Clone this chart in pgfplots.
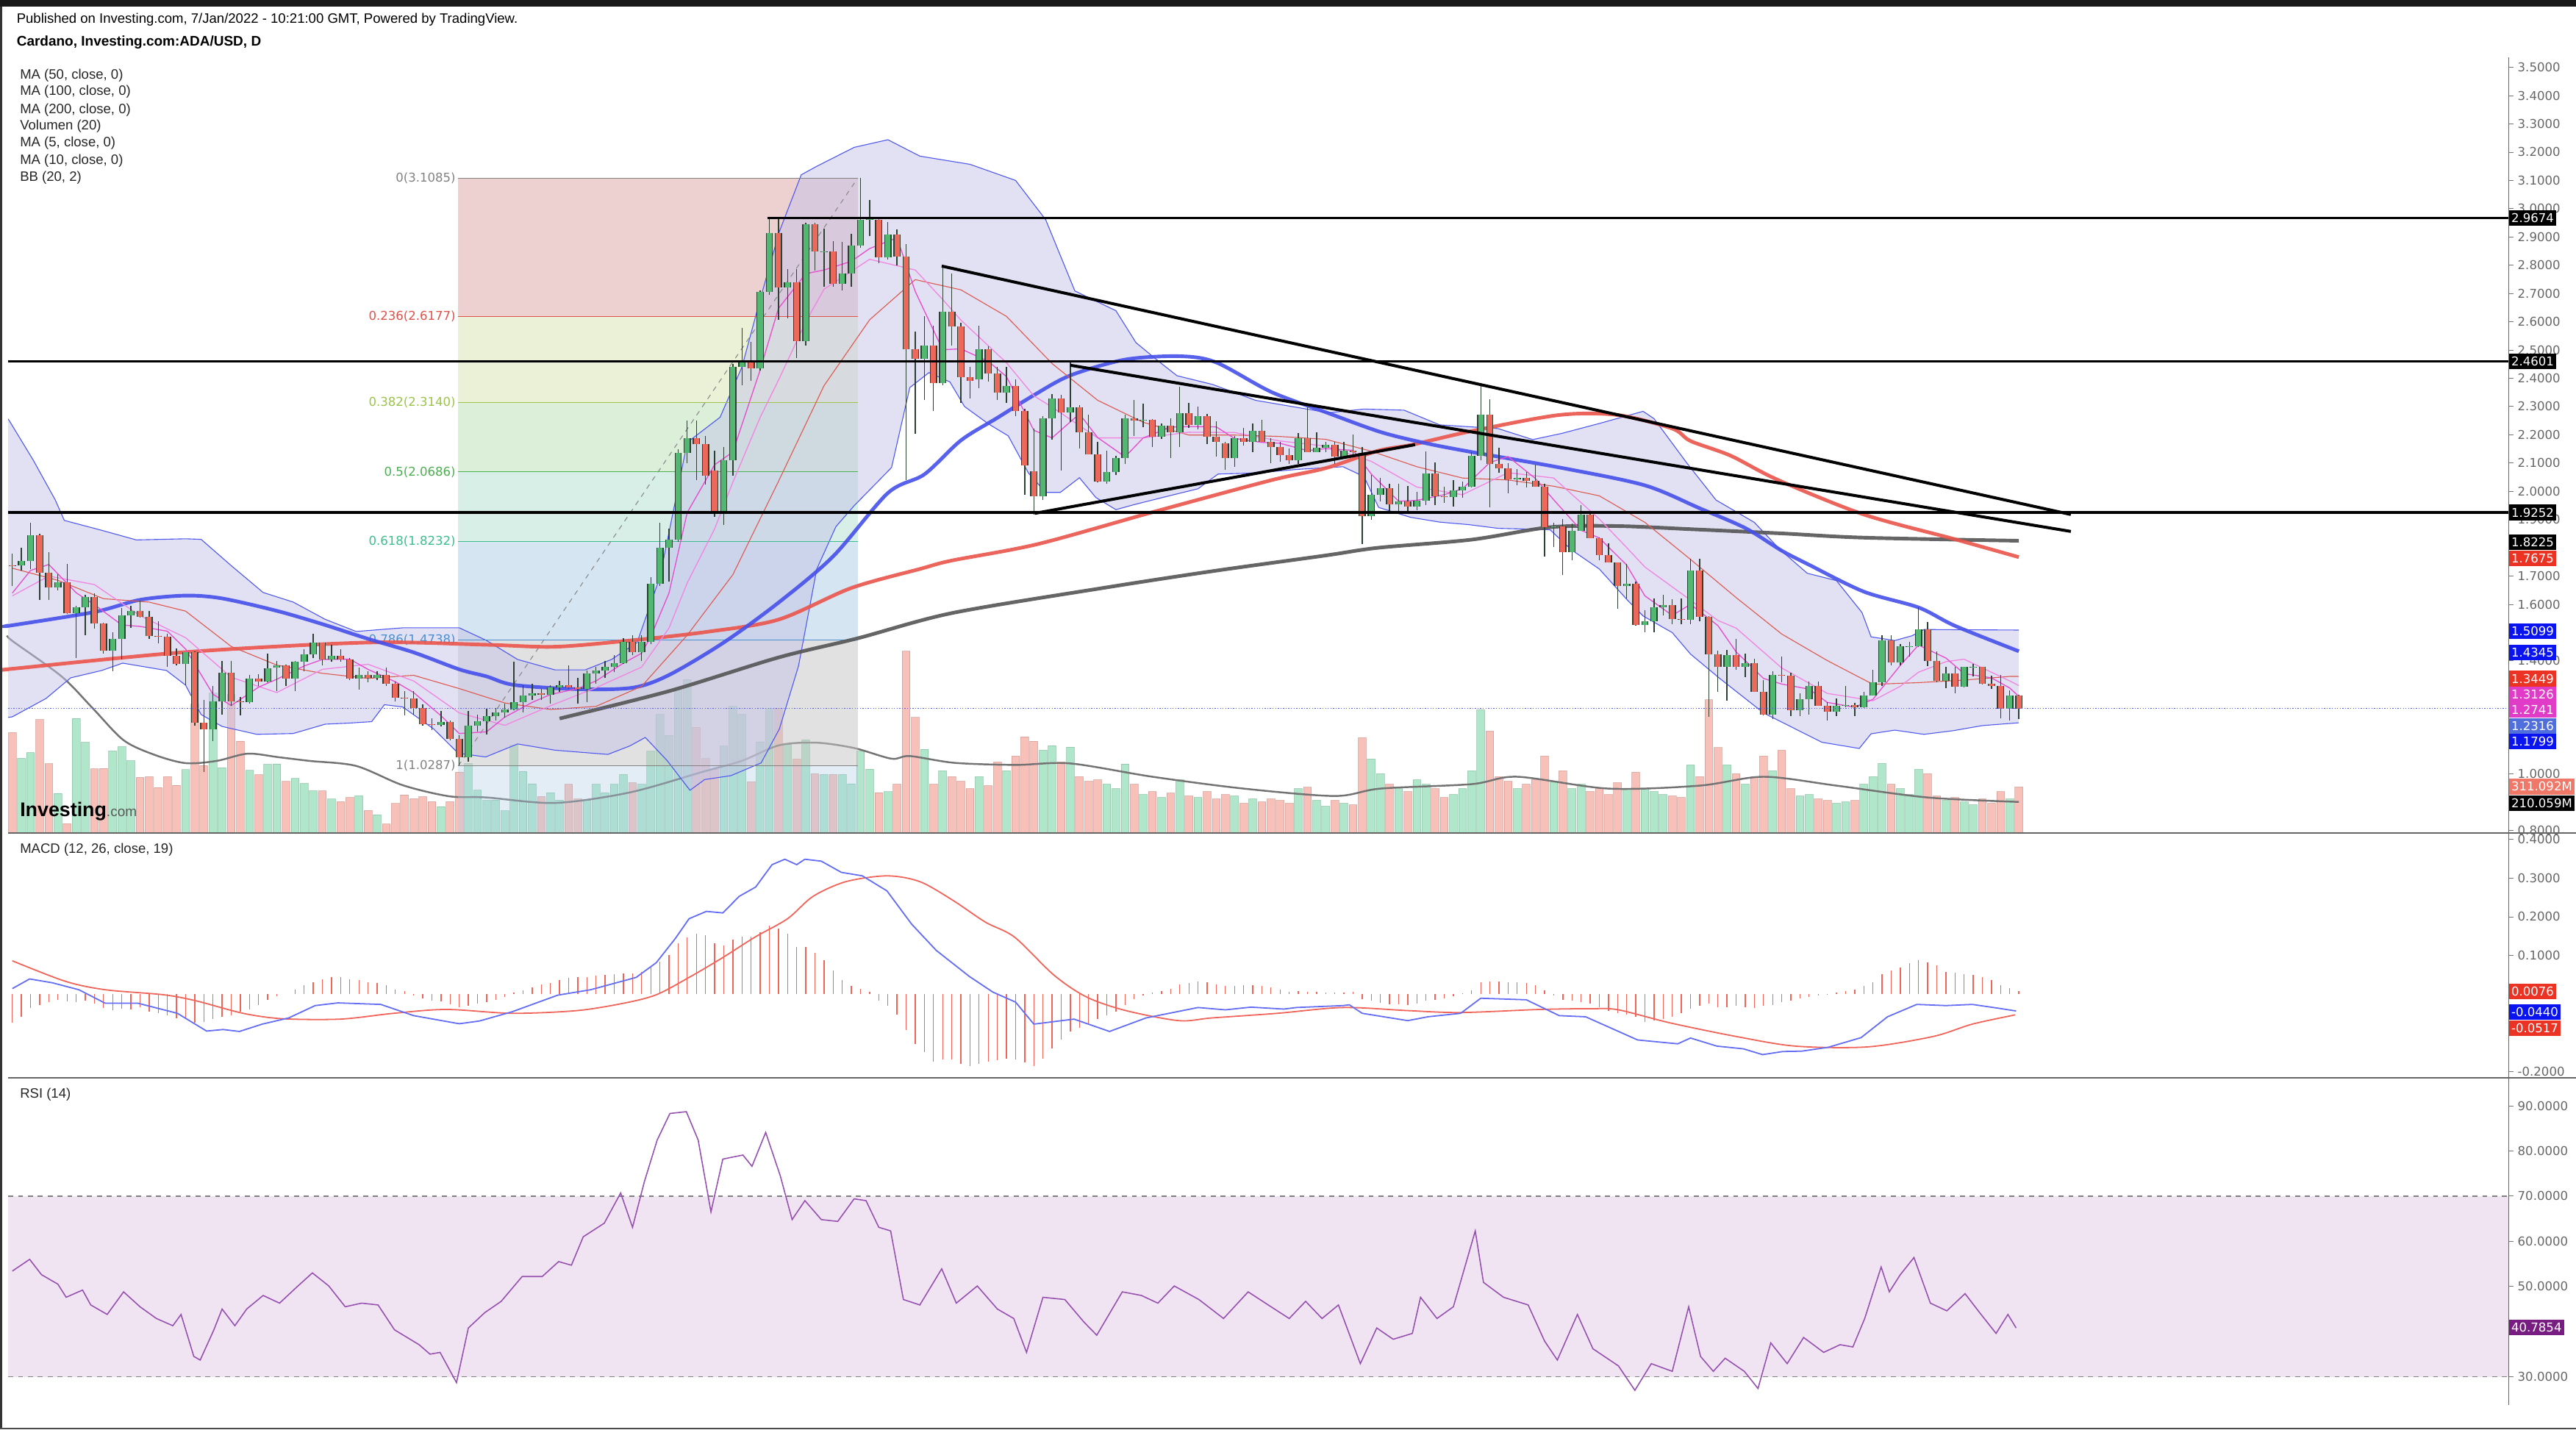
\documentclass[border=0pt]{standalone}
\usepackage{pgfplots}
\pgfplotsset{compat=1.18}
\usepackage{pgfplotstable}
\usepackage{fontspec}
\setmainfont{Liberation Sans}
\newfontfamily\numfont{DejaVu Sans}

\definecolor{cUp}{RGB}{82,183,113}
\definecolor{cDn}{RGB}{236,104,90}
\definecolor{cWick}{RGB}{45,65,50}
\definecolor{vUp}{RGB}{150,222,185}
\definecolor{vDn}{RGB}{245,172,162}
\definecolor{bbBlue}{RGB}{80,90,240}
\definecolor{bbFill}{RGB}{196,196,232}
\definecolor{maA}{RGB}{70,80,235}
\definecolor{maB}{RGB}{235,85,75}
\definecolor{maC}{RGB}{85,85,85}
\definecolor{maFive}{RGB}{228,80,205}
\definecolor{maTen}{RGB}{240,135,225}
\definecolor{basis}{RGB}{222,90,80}
\definecolor{fA}{RGB}{221,165,165}
\definecolor{fB}{RGB}{217,229,177}
\definecolor{fC}{RGB}{185,225,181}
\definecolor{fD}{RGB}{177,225,209}
\definecolor{fE}{RGB}{173,205,229}
\definecolor{fF}{RGB}{197,197,197}
\definecolor{lA}{RGB}{130,130,130}
\definecolor{lB}{RGB}{224,82,74}
\definecolor{lC}{RGB}{156,196,74}
\definecolor{lD}{RGB}{76,175,80}
\definecolor{lE}{RGB}{60,190,140}
\definecolor{lF}{RGB}{74,144,208}
\definecolor{bRed}{RGB}{235,50,35}
\definecolor{bBlue}{RGB}{10,20,240}
\definecolor{bMag}{RGB}{225,60,200}
\definecolor{bSlate}{RGB}{80,110,220}
\definecolor{bSalmon}{RGB}{240,120,105}
\definecolor{bPurple}{RGB}{120,30,130}
\definecolor{macdBlue}{RGB}{100,110,245}
\definecolor{macdRed}{RGB}{240,100,90}
\definecolor{rsiBand}{RGB}{240,228,243}
\definecolor{rsiLine}{RGB}{150,80,175}

\newcommand{\fs}{\fontsize{8.3}{9.3}\selectfont}
\newcommand{\ns}{\numfont\fontsize{7.4}{8.4}\selectfont}
\tikzset{lbl/.style={anchor=west, text=white, font=\ns, inner xsep=1.5pt, inner ysep=1pt, minimum height=9.5pt}}

\pgfplotstableread{
d o h l c v
0 1.739 1.780 1.664 1.737 679
1 1.737 1.800 1.720 1.754 505
2 1.754 1.888 1.724 1.845 543
3 1.845 1.850 1.616 1.711 767
4 1.711 1.784 1.616 1.659 469
5 1.659 1.707 1.650 1.677 268
6 1.677 1.744 1.565 1.569 63
7 1.569 1.595 1.409 1.590 774
8 1.590 1.634 1.491 1.627 613
9 1.627 1.638 1.513 1.532 434
10 1.532 1.534 1.426 1.437 436
11 1.437 1.500 1.362 1.478 555
12 1.478 1.586 1.405 1.560 583
13 1.560 1.595 1.517 1.577 489
14 1.577 1.612 1.552 1.556 376
15 1.556 1.577 1.478 1.487 381
16 1.487 1.539 1.461 1.485 307
17 1.485 1.495 1.379 1.418 381
18 1.418 1.444 1.384 1.388 323
19 1.388 1.431 1.314 1.431 428
20 1.431 1.433 1.172 1.180 870
21 1.180 1.262 1.008 1.157 456
22 1.157 1.310 1.116 1.256 945
23 1.256 1.399 1.210 1.359 442
24 1.359 1.399 1.241 1.256 936
25 1.256 1.271 1.206 1.253 621
26 1.253 1.350 1.250 1.338 423
27 1.338 1.353 1.310 1.327 394
28 1.327 1.425 1.323 1.373 464
29 1.375 1.400 1.293 1.383 467
30 1.383 1.387 1.310 1.336 348
31 1.336 1.400 1.293 1.398 368
32 1.398 1.442 1.362 1.422 335
33 1.422 1.497 1.409 1.465 285
34 1.465 1.465 1.383 1.405 285
35 1.405 1.457 1.396 1.419 229
36 1.419 1.442 1.396 1.405 212
37 1.405 1.409 1.332 1.336 240
38 1.336 1.375 1.297 1.350 252
39 1.350 1.362 1.323 1.340 152
40 1.340 1.362 1.332 1.350 124
41 1.350 1.375 1.310 1.319 60
42 1.319 1.327 1.256 1.270 199
43 1.270 1.293 1.206 1.267 257
44 1.267 1.293 1.210 1.232 232
45 1.232 1.245 1.172 1.175 245
46 1.175 1.198 1.155 1.173 212
47 1.173 1.224 1.168 1.185 179
48 1.185 1.190 1.120 1.124 212
49 1.124 1.137 1.029 1.060 411
50 1.060 1.224 1.042 1.171 470
51 1.171 1.211 1.150 1.186 290
52 1.186 1.230 1.140 1.204 220
53 1.204 1.233 1.190 1.218 223
54 1.218 1.250 1.200 1.228 150
55 1.228 1.397 1.225 1.255 594
56 1.255 1.315 1.218 1.277 417
57 1.277 1.320 1.263 1.285 333
58 1.285 1.300 1.263 1.280 246
59 1.280 1.315 1.248 1.307 273
60 1.307 1.330 1.290 1.315 223
61 1.315 1.385 1.300 1.307 330
62 1.307 1.340 1.250 1.300 230
63 1.300 1.367 1.255 1.355 223
64 1.355 1.380 1.320 1.367 330
65 1.367 1.400 1.340 1.378 273
66 1.378 1.420 1.360 1.393 330
67 1.393 1.480 1.390 1.467 395
68 1.467 1.490 1.420 1.430 340
69 1.430 1.490 1.400 1.467 330
70 1.467 1.695 1.460 1.673 553
71 1.673 1.890 1.665 1.800 801
72 1.800 1.868 1.680 1.830 660
73 1.830 2.150 1.820 2.136 981
74 2.136 2.250 2.100 2.188 1038
75 2.188 2.250 2.040 2.166 715
76 2.166 2.196 2.024 2.054 502
77 2.073 2.143 1.910 1.927 432
78 1.927 2.158 1.882 2.110 588
79 2.110 2.450 2.055 2.440 856
80 2.440 2.578 2.375 2.457 801
81 2.457 2.530 2.390 2.436 346
82 2.436 2.710 2.427 2.706 616
83 2.706 2.964 2.695 2.915 844
84 2.915 2.964 2.606 2.720 844
85 2.720 2.785 2.613 2.740 601
86 2.740 2.785 2.471 2.531 500
87 2.531 2.949 2.516 2.946 630
88 2.946 2.949 2.780 2.848 400
89 2.848 2.930 2.725 2.850 395
90 2.850 2.886 2.725 2.733 395
91 2.733 2.882 2.710 2.770 395
92 2.770 2.910 2.725 2.870 333
93 2.870 3.1085 2.862 2.961 553
94 2.961 3.030 2.904 2.963 432
95 2.961 2.964 2.807 2.827 273
96 2.827 2.952 2.820 2.908 279
97 2.908 2.926 2.800 2.830 330
98 2.830 2.874 2.039 2.504 1229
99 2.504 2.564 2.203 2.468 781
100 2.468 2.620 2.322 2.516 565
101 2.516 2.587 2.283 2.382 330
102 2.382 2.800 2.375 2.636 420
103 2.636 2.770 2.516 2.583 380
104 2.583 2.596 2.313 2.404 350
105 2.404 2.439 2.328 2.391 300
106 2.396 2.585 2.365 2.503 380
107 2.503 2.513 2.387 2.417 320
108 2.417 2.439 2.322 2.348 480
109 2.348 2.439 2.313 2.372 420
110 2.372 2.396 2.265 2.285 520
111 2.285 2.292 1.987 2.091 650
112 2.070 2.222 1.918 1.983 620
113 1.983 2.265 1.970 2.258 560
114 2.258 2.344 2.184 2.328 590
115 2.328 2.342 2.074 2.278 480
116 2.278 2.457 2.244 2.296 580
117 2.296 2.305 2.152 2.209 380
118 2.209 2.270 2.130 2.130 350
119 2.130 2.174 2.033 2.035 360
120 2.035 2.143 2.026 2.067 330
121 2.067 2.126 2.057 2.118 300
122 2.118 2.270 2.096 2.258 466
123 2.258 2.322 2.196 2.250 330
124 2.250 2.309 2.226 2.253 260
125 2.253 2.255 2.157 2.192 280
126 2.192 2.240 2.186 2.233 240
127 2.233 2.259 2.118 2.209 270
128 2.209 2.371 2.157 2.276 360
129 2.276 2.313 2.224 2.235 250
130 2.235 2.300 2.220 2.265 240
131 2.265 2.274 2.168 2.192 280
132 2.192 2.248 2.122 2.174 230
133 2.170 2.174 2.075 2.117 260
134 2.117 2.196 2.087 2.187 250
135 2.187 2.224 2.161 2.174 200
136 2.174 2.241 2.139 2.215 230
137 2.215 2.252 2.174 2.174 210
138 2.174 2.187 2.100 2.157 230
139 2.157 2.174 2.105 2.128 220
140 2.128 2.152 2.096 2.111 200
141 2.111 2.205 2.096 2.187 300
142 2.187 2.296 2.139 2.139 310
143 2.139 2.209 2.139 2.154 220
144 2.154 2.174 2.139 2.165 180
145 2.165 2.174 2.096 2.122 220
146 2.122 2.174 2.122 2.144 200
147 2.144 2.200 2.126 2.139 190
148 2.137 2.157 1.813 1.913 644
149 1.913 2.057 1.900 1.987 500
150 1.987 2.047 1.965 2.010 400
151 2.010 2.026 1.927 1.953 330
152 1.953 2.026 1.921 1.963 300
153 1.963 2.019 1.921 1.947 280
154 1.947 1.997 1.934 1.967 360
155 1.967 2.142 1.951 2.063 330
156 2.063 2.103 1.950 1.982 300
157 1.982 2.017 1.960 1.981 240
158 1.981 2.039 1.947 2.002 260
159 2.002 2.034 1.978 2.015 300
160 2.015 2.139 2.013 2.126 420
161 2.126 2.372 2.109 2.270 833
162 2.270 2.326 1.944 2.098 688
163 2.098 2.154 2.065 2.080 380
164 2.080 2.100 1.993 2.043 350
165 2.043 2.078 2.021 2.047 300
166 2.047 2.069 2.013 2.037 330
167 2.037 2.093 2.015 2.017 360
168 2.017 2.026 1.770 1.873 520
169 1.873 1.890 1.803 1.876 350
170 1.876 1.903 1.703 1.786 420
171 1.786 1.886 1.755 1.860 300
172 1.860 1.951 1.860 1.917 330
173 1.917 1.925 1.833 1.835 280
174 1.835 1.838 1.755 1.775 300
175 1.775 1.816 1.747 1.747 260
176 1.747 1.749 1.585 1.664 340
177 1.664 1.742 1.620 1.672 300
178 1.672 1.681 1.524 1.528 410
179 1.528 1.580 1.500 1.540 300
180 1.540 1.620 1.500 1.589 280
181 1.589 1.635 1.560 1.598 260
182 1.598 1.618 1.530 1.548 250
183 1.548 1.620 1.530 1.546 240
184 1.546 1.760 1.530 1.720 460
185 1.720 1.760 1.540 1.556 380
186 1.556 1.558 1.203 1.424 900
187 1.424 1.437 1.290 1.379 577
188 1.379 1.440 1.259 1.420 460
189 1.420 1.478 1.368 1.379 400
190 1.379 1.425 1.342 1.392 330
191 1.392 1.407 1.290 1.290 380
192 1.290 1.333 1.207 1.209 520
193 1.209 1.362 1.194 1.350 420
194 1.350 1.415 1.324 1.348 560
195 1.348 1.359 1.205 1.225 300
196 1.225 1.285 1.205 1.265 250
197 1.265 1.328 1.209 1.311 260
198 1.311 1.328 1.242 1.242 230
199 1.242 1.255 1.188 1.220 220
200 1.220 1.266 1.205 1.240 200
201 1.240 1.311 1.237 1.243 210
202 1.243 1.252 1.205 1.237 220
203 1.237 1.290 1.233 1.278 330
204 1.278 1.368 1.277 1.324 380
205 1.324 1.492 1.311 1.472 470
206 1.472 1.492 1.385 1.394 330
207 1.394 1.460 1.385 1.452 300
208 1.452 1.467 1.415 1.453 260
209 1.453 1.589 1.450 1.511 430
210 1.511 1.537 1.382 1.400 400
211 1.400 1.434 1.324 1.329 250
212 1.329 1.379 1.304 1.356 220
213 1.356 1.380 1.285 1.309 240
214 1.309 1.380 1.307 1.379 210
215 1.379 1.388 1.346 1.380 190
216 1.380 1.380 1.316 1.320 230
217 1.320 1.347 1.301 1.311 200
218 1.311 1.350 1.198 1.231 280
219 1.231 1.295 1.190 1.278 230
220 1.278 1.280 1.194 1.2316 311
}\ohlc

\pgfplotstableread{
d m
0 -0.075
1 -0.059
2 -0.037
3 -0.029
4 -0.021
5 -0.015
6 -0.020
7 -0.021
8 -0.018
9 -0.024
10 -0.037
11 -0.041
12 -0.039
13 -0.040
14 -0.035
15 -0.046
16 -0.050
17 -0.056
18 -0.062
19 -0.065
20 -0.075
21 -0.072
22 -0.064
23 -0.059
24 -0.056
25 -0.046
26 -0.040
27 -0.029
28 -0.015
29 -0.005
30 0.000
31 0.011
32 0.022
33 0.031
34 0.039
35 0.043
36 0.044
37 0.039
38 0.036
39 0.031
40 0.029
41 0.023
42 0.012
43 0.007
44 -0.003
45 -0.011
46 -0.018
47 -0.020
48 -0.026
49 -0.035
50 -0.030
51 -0.024
52 -0.021
53 -0.015
54 -0.008
55 0.003
56 0.010
57 0.017
58 0.025
59 0.029
60 0.036
61 0.041
62 0.043
63 0.044
64 0.048
65 0.050
66 0.052
67 0.054
68 0.054
69 0.057
70 0.068
71 0.084
72 0.100
73 0.131
74 0.147
75 0.157
76 0.152
77 0.131
78 0.126
79 0.141
80 0.149
81 0.149
82 0.160
83 0.177
84 0.170
85 0.156
86 0.122
87 0.122
88 0.106
89 0.087
90 0.060
91 0.036
92 0.020
93 0.013
94 0.006
95 -0.018
96 -0.030
97 -0.053
98 -0.094
99 -0.129
100 -0.151
101 -0.175
102 -0.170
103 -0.170
104 -0.180
105 -0.186
106 -0.180
107 -0.175
108 -0.172
109 -0.168
110 -0.170
111 -0.177
112 -0.186
113 -0.167
114 -0.140
115 -0.119
116 -0.098
117 -0.088
118 -0.078
119 -0.065
120 -0.056
121 -0.046
122 -0.029
123 -0.013
124 -0.003
125 0.004
126 0.008
127 0.014
128 0.025
129 0.029
130 0.033
131 0.030
132 0.025
133 0.020
134 0.020
135 0.022
136 0.023
137 0.020
138 0.017
139 0.012
140 0.006
141 0.007
142 0.006
143 0.006
144 0.004
145 0.003
146 0.004
147 0.006
148 -0.013
149 -0.018
150 -0.023
151 -0.026
152 -0.027
153 -0.029
154 -0.024
155 -0.018
156 -0.016
157 -0.011
158 -0.005
159 0.001
160 0.010
161 0.031
162 0.033
163 0.033
164 0.031
165 0.030
166 0.029
167 0.023
168 0.010
169 -0.003
170 -0.015
171 -0.018
172 -0.021
173 -0.024
174 -0.034
175 -0.043
176 -0.050
177 -0.053
178 -0.059
179 -0.072
180 -0.069
181 -0.065
182 -0.059
183 -0.050
184 -0.039
185 -0.030
186 -0.024
187 -0.034
188 -0.034
189 -0.030
190 -0.035
191 -0.037
192 -0.030
193 -0.029
194 -0.021
195 -0.018
196 -0.011
197 -0.007
198 -0.003
199 -0.002
200 0.003
201 0.008
202 0.011
203 0.020
204 0.031
205 0.052
206 0.060
207 0.069
208 0.079
209 0.087
210 0.082
211 0.074
212 0.058
213 0.055
214 0.052
215 0.050
216 0.044
217 0.036
218 0.023
219 0.016
220 0.0076
}\hist

\begin{document}
\begin{tikzpicture}
\useasboundingbox (0,0) rectangle (1568pt,870pt);
\fill[white] (0,0) rectangle (1568pt,870pt);

\pgfplotsset{
  base/.style={
    scale only axis, width=1522pt, xmin=-0.45, xmax=273.7,
    clip=false,
    axis x line=none, axis y line*=right,
    xtick=\empty,
    tick align=outside, major tick length=3pt,
    every tick/.style={draw=black!55, line width=0.4pt},
    axis line style={draw=black!60, line width=0.6pt},
    yticklabel style={font=\ns, text=black!60, xshift=-1pt},
  },
}

% ---------- volume (underlay) ----------
\begin{axis}[base, at={(5pt,363pt)}, anchor=south west, height=472pt,
  ymin=0, ymax=5240, axis lines=none, ytick=\empty]
\addplot[ybar, bar shift=0pt, bar width=4.8pt, fill=vUp, draw=vUp!80!black, fill opacity=0.75, draw opacity=0.5,
  restrict expr to domain={\thisrow{c}-\thisrow{o}}{0:10}] table[x=d,y=v]{\ohlc};
\addplot[ybar, bar shift=0pt, bar width=4.8pt, fill=vDn, draw=vDn!80!black, fill opacity=0.75, draw opacity=0.5,
  restrict expr to domain={\thisrow{c}-\thisrow{o}}{-10:-0.0000001}] table[x=d,y=v]{\ohlc};
\addplot[black!55, line width=1.1pt, smooth] coordinates {
(-0.45,1330) (0,1298) (5.4,1058) (8.8,844) (12.2,627) (15.6,528) (19,472) (22.4,487) (25.8,536) (29.2,512)
(32.6,487) (37.7,453) (42.8,323) (47.9,248) (52,240) (59.5,203) (67.7,274) (75.9,417) (80,488) (84.1,593)
(88.2,610) (92.3,574) (96.4,502) (98.4,520) (103.3,474) (110,460) (116,470) (125,380) (135,300) (145,250)
(150,300) (160,330) (165,380) (175,300) (185,320) (192,380) (200,320) (210,240) (220,210)};
\end{axis}

% ---------- MACD ----------
\begin{axis}[base, at={(5pt,214pt)}, anchor=south west, height=149pt,
  ymin=-0.217, ymax=0.417, ytick={-0.2,-0.1,0,0.1,0.2,0.3,0.4},
  yticklabels={-0.2000,,,0.1000,0.2000,0.3000,0.4000}]
\addplot[ycomb, draw=macdRed, line width=0.6pt] table[x=d,y=m]{\hist};
\addplot[macdRed, line width=0.8pt, smooth] coordinates {
(0,0.086) (5.8,0.033) (10.2,0.011) (16.6,-0.002) (20.2,-0.018) (25.3,-0.050) (29.6,-0.064) (36,-0.065)
(41.8,-0.050) (47.6,-0.040) (54.8,-0.050) (61.9,-0.043) (67,-0.024) (70.6,-0.002) (74.2,0.043) (77.8,0.093)
(81.4,0.147) (85,0.195) (87.8,0.253) (91.4,0.291) (95.9,0.306) (99.5,0.291) (103.1,0.243) (106.7,0.186)
(109.9,0.147) (114.2,0.049) (117.8,-0.008) (122.1,-0.043) (127.9,-0.069) (131.5,-0.062) (138.7,-0.050)
(145.9,-0.035) (153,-0.043) (158.8,-0.048) (167.5,-0.040) (173.2,-0.038) (176.1,-0.041) (181.8,-0.075)
(189,-0.110) (195.5,-0.135) (203.4,-0.137) (210.6,-0.110) (214.9,-0.078) (219.6,-0.054)};
\addplot[macdBlue, line width=0.8pt] coordinates {
(0,0.014) (1.9,0.039) (4.4,0.029) (7.3,0.011) (10.2,-0.024) (13.8,-0.024) (18.1,-0.050) (21.3,-0.096)
(23.1,-0.092) (24.9,-0.097) (27.4,-0.078) (30.3,-0.062) (33.2,-0.030) (35.7,-0.023) (40.4,-0.027) (44,-0.056)
(49,-0.077) (51.2,-0.070) (54.8,-0.046) (59.8,-0.003) (63.4,0.011) (68.4,0.043) (70.6,0.081) (72.7,0.144)
(74.2,0.195) (76.1,0.214) (77.9,0.210) (79.7,0.253) (81.5,0.277) (83.3,0.335) (84.7,0.349) (86.0,0.335)
(86.9,0.349) (88.7,0.344) (90.9,0.315) (93.2,0.306) (95.9,0.267) (98.6,0.181) (101.3,0.113) (104.9,0.046)
(107.5,0.005) (110,-0.021) (112,-0.078) (116.4,-0.065) (120.3,-0.097) (124.3,-0.062) (130,-0.035) (133,-0.041)
(135.8,-0.034) (139.4,-0.039) (140.8,-0.035) (145.9,-0.030) (146.6,-0.028) (148,-0.050) (153,-0.069)
(155.2,-0.059) (158.8,-0.050) (161,-0.011) (166,-0.015) (169.6,-0.056) (172.5,-0.059) (178.2,-0.119)
(182.6,-0.129) (184,-0.114) (186.9,-0.135) (189.8,-0.142) (191.9,-0.157) (194.1,-0.149) (196.2,-0.148)
(199.1,-0.138) (202.7,-0.113) (205.6,-0.059) (208.8,-0.027) (212,-0.030) (214.9,-0.027) (217.8,-0.037) (219.7,-0.044)};
\node[lbl, fill=bRed] at (axis cs:273.7,0.006) {0.0076};
\node[lbl, fill=bBlue] at (axis cs:273.7,-0.046) {-0.0440};
\node[lbl, fill=bRed] at (axis cs:273.7,-0.089) {-0.0517};
\end{axis}

% ---------- RSI ----------
\begin{axis}[base, at={(5pt,15pt)}, anchor=south west, height=199pt,
  ymin=23.8, ymax=96.2, ytick={30,40,50,60,70,80,90},
  yticklabels={30.0000,,50.0000,60.0000,70.0000,80.0000,90.0000},
  axis x line*=bottom,
  xtick={0,9,18,30,39,48,61,70,79,92,101,110,122,131,140,153,162,171,183,192,201,214,223,232,245,254,263,273},
  xticklabels={Jun,10,19,Jul,10,19,Aug,10,19,Sep,10,19,Okt,10,19,Nov,10,19,Dez,10,19,\textbf{2022},10,19,Feb,10,19,Mrz},
  xticklabel style={font=\fontsize{7.8}{8.5}\selectfont, text=black!65, yshift=1pt},
  ]
\addplot[fill=rsiBand, draw=none] coordinates {(-0.45,30) (273.7,30) (273.7,70) (-0.45,70)} --cycle;
\addplot[black!50, dashed, line width=0.6pt] coordinates {(-0.45,70) (273.7,70)};
\addplot[black!50, dashed, line width=0.6pt] coordinates {(-0.45,30) (273.7,30)};
\addplot[rsiLine, line width=0.7pt] coordinates {
(0,53.4) (1.9,56) (3.2,52.6) (5.0,50.5) (5.9,47.6) (7.7,49.2) (8.6,45.9) (10.4,43.8) (12.2,48.8) (14.0,45.5)
(15.8,42.9) (17.6,41.3) (18.5,43.8) (19.9,34.5) (20.6,33.7) (22.1,40.4) (23.0,45) (24.4,41.3) (25.7,45)
(27.5,48) (29.3,46.3) (31.1,49.7) (32.9,53) (34.7,50.1) (36.5,45.5) (38.3,46.3) (40.1,45.9) (41.9,40.4)
(44.6,37.1) (45.8,35) (46.9,35.4) (48.7,28.7) (50.0,40.8) (51.8,44.2) (53.6,46.7) (55.9,52.2) (58.1,52.2)
(59.9,55.5) (61.3,54.7) (62.6,61) (64.9,64) (66.7,70.7) (68.0,63.1) (69.3,73.2) (70.7,82.4) (72.1,88.3)
(73.9,88.7) (75.2,82.4) (76.6,66.5) (77.9,78.2) (80.1,79.1) (81.1,76.6) (82.6,84.1) (84.2,74.5) (85.5,64.8)
(86.9,69) (88.7,64.8) (90.5,64.4) (92.3,69.4) (93.6,69) (95.0,63.1) (96.3,62.3) (97.7,47.1) (99.5,45.9)
(101.9,53.9) (103.5,46.3) (105.8,50.1) (108.0,45) (109.8,42.9) (111.2,35.4) (113.0,47.6) (115.4,47.1)
(117.5,42.1) (118.9,39.2) (121.7,48.8) (123.8,48) (125.6,46.3) (127.4,50.1) (130.1,47.1) (132.8,42.9)
(135.5,48.8) (137.7,45.9) (140.0,42.9) (141.8,46.7) (143.6,42.9) (145.4,45.9) (147.8,32.9) (149.6,40.8)
(151.4,38.3) (153.5,39.6) (154.4,47.6) (156.2,42.9) (158.0,45.5) (160.4,62.3) (161.3,50.9) (163.5,47.6)
(166.2,45.9) (168.0,37.9) (169.4,33.7) (171.6,43.8) (173.3,36.2) (176.1,32.4) (177.9,27) (179.7,32.9)
(182.0,31.2) (183.8,45.5) (185.1,34.5) (186.5,31.2) (187.8,34.1) (189.9,31.2) (191.4,27.4) (192.8,37.5)
(194.6,32.9) (196.4,38.7) (198.6,35.4) (200.4,37.1) (201.8,36.6) (203.1,42.9) (204.9,54.3) (205.8,48.8)
(207.0,52.6) (208.5,56.4) (210.3,46.3) (212.1,44.6) (214.1,48.4) (215.7,44.2) (217.5,39.6) (218.8,43.8) (219.7,40.8)};
\node[lbl, fill=bPurple] at (axis cs:273.7,40.9) {40.7854};
\end{axis}

% ---------- price ----------
\begin{axis}[base, at={(5pt,363pt)}, anchor=south west, height=472pt,
  ymin=0.791, ymax=3.535,
  ytick={0.8,0.9,1,1.1,1.2,1.3,1.4,1.5,1.6,1.7,1.8,1.9,2,2.1,2.2,2.3,2.4,2.5,2.6,2.7,2.8,2.9,3,3.1,3.2,3.3,3.4,3.5},
  yticklabels={0.8000,,1.0000,,,,1.4000,,1.6000,1.7000,,1.9000,2.0000,2.1000,2.2000,2.3000,2.4000,2.5000,2.6000,2.7000,2.8000,2.9000,3.0000,3.1000,3.2000,3.3000,3.4000,3.5000}]
% Fibonacci zones
\addplot[fill=fA, draw=none, fill opacity=0.5] coordinates {(48.9,3.1085) (92.7,3.1085) (92.7,2.6177) (48.9,2.6177)} --cycle;
\addplot[fill=fB, draw=none, fill opacity=0.5] coordinates {(48.9,2.6177) (92.7,2.6177) (92.7,2.3140) (48.9,2.3140)} --cycle;
\addplot[fill=fC, draw=none, fill opacity=0.5] coordinates {(48.9,2.3140) (92.7,2.3140) (92.7,2.0686) (48.9,2.0686)} --cycle;
\addplot[fill=fD, draw=none, fill opacity=0.5] coordinates {(48.9,2.0686) (92.7,2.0686) (92.7,1.8232) (48.9,1.8232)} --cycle;
\addplot[fill=fE, draw=none, fill opacity=0.5] coordinates {(48.9,1.8232) (92.7,1.8232) (92.7,1.4738) (48.9,1.4738)} --cycle;
\addplot[fill=fF, draw=none, fill opacity=0.5] coordinates {(48.9,1.4738) (92.7,1.4738) (92.7,1.0287) (48.9,1.0287)} --cycle;
\addplot[fill=fE, draw=none, fill opacity=0.35] coordinates {(48.9,1.0287) (92.7,1.0287) (92.7,0.791) (48.9,0.791)} --cycle;
% Bollinger band area (upper band, then lower band reversed)
\addplot[fill=bbFill, fill opacity=0.5, draw=none] coordinates {
(-0.45,2.256) (2.3,2.11) (4.7,1.97) (5.7,1.897) (9.8,1.862) (13.6,1.828) (19,1.832) (20.7,1.83) (24,1.737)
(27.5,1.642) (30.8,1.608) (34.3,1.547) (37.7,1.504) (42.8,1.517) (47.9,1.517) (49,1.517) (52,1.472)
(55.4,1.405) (59.5,1.368) (62.8,1.368) (65.7,1.405) (68.5,1.465) (71,1.696) (74,2.173) (77.6,2.262)
(80,2.44) (82,2.68) (84.1,2.919) (86.5,3.12) (88.2,3.15) (92.3,3.217) (96,3.244) (99.5,3.186) (105,3.157)
(110,3.10) (113.3,2.961) (116.5,2.709) (121,2.639) (123.2,2.526) (125.8,2.457) (127.7,2.409) (131.6,2.378)
(136.3,2.322) (144.3,2.278) (148.2,2.291) (152.6,2.287) (156.5,2.235) (162.9,2.222) (166.7,2.183)
(169.9,2.205) (174,2.24) (178.8,2.283) (180,2.257) (183.6,2.1) (186.8,1.969) (191,1.89) (193.8,1.794)
(196.8,1.71) (200,1.684) (202.8,1.571) (203.8,1.485) (206.4,1.472) (208.3,1.489) (209.6,1.511) (220,1.509)
(220,1.181) (216,1.171) (212.8,1.153) (209.6,1.14) (206.4,1.155) (203.8,1.142) (202.5,1.09) (198.4,1.112)
(195.2,1.164) (192,1.216) (187.2,1.338) (184,1.424) (182,1.50) (178.8,1.559) (177.2,1.611) (174,1.725)
(170.9,1.794) (168.6,1.864) (162.9,1.869) (159.7,1.882) (156.5,1.891) (153.3,1.908) (149.8,1.943)
(148.2,2.052) (145.9,2.087) (141.1,2.078) (136.3,2.065) (132.2,2.061) (130,2.009) (126.1,1.978) (122.9,1.952)
(121,1.935) (118.8,1.978) (117,2.048) (114.9,1.996) (113.3,1.996) (111.4,2.065) (109.2,2.196) (107,2.239)
(104.4,2.3) (102.8,2.387) (100.5,2.42) (98.4,2.367) (96.4,2.084) (92.3,1.949) (90.3,1.875) (88.2,1.725)
(86.2,1.382) (84.1,1.159) (82.1,1.039) (78.8,0.994) (75.9,0.98) (74.3,0.942) (71.8,1.047) (69.4,1.129)
(67.7,1.099) (65.3,1.069) (59.5,1.084) (55.4,1.106) (51.9,1.06) (48.9,1.073) (46.2,1.159) (42.8,1.237)
(40.8,1.245) (39.4,1.185) (37,1.18) (34.3,1.176) (30.8,1.143) (26.8,1.14) (23,1.168) (20.7,1.21) (19,1.314)
(16.9,1.366) (12.1,1.392) (9.8,1.366) (6.4,1.34) (3.7,1.267) (0,1.202) (-0.45,1.20)} --cycle;
\addplot[bbBlue, line width=0.5pt] coordinates {
(-0.45,2.256) (2.3,2.11) (4.7,1.97) (5.7,1.897) (9.8,1.862) (13.6,1.828) (19,1.832) (20.7,1.83) (24,1.737)
(27.5,1.642) (30.8,1.608) (34.3,1.547) (37.7,1.504) (42.8,1.517) (47.9,1.517) (49,1.517) (52,1.472)
(55.4,1.405) (59.5,1.368) (62.8,1.368) (65.7,1.405) (68.5,1.465) (71,1.696) (74,2.173) (77.6,2.262)
(80,2.44) (82,2.68) (84.1,2.919) (86.5,3.12) (88.2,3.15) (92.3,3.217) (96,3.244) (99.5,3.186) (105,3.157)
(110,3.10) (113.3,2.961) (116.5,2.709) (121,2.639) (123.2,2.526) (125.8,2.457) (127.7,2.409) (131.6,2.378)
(136.3,2.322) (144.3,2.278) (148.2,2.291) (152.6,2.287) (156.5,2.235) (162.9,2.222) (166.7,2.183)
(169.9,2.205) (174,2.24) (178.8,2.283) (180,2.257) (183.6,2.1) (186.8,1.969) (191,1.89) (193.8,1.794)
(196.8,1.71) (200,1.684) (202.8,1.571) (203.8,1.485) (206.4,1.472) (208.3,1.489) (209.6,1.511) (220,1.509)};
\addplot[bbBlue, line width=0.5pt] coordinates {
(-0.45,1.20) (0,1.202) (3.7,1.267) (6.4,1.34) (9.8,1.366) (12.1,1.392) (16.9,1.366) (19,1.314) (20.7,1.21)
(23,1.168) (26.8,1.14) (30.8,1.143) (34.3,1.176) (37,1.18) (39.4,1.185) (40.8,1.245) (42.8,1.237)
(46.2,1.159) (48.9,1.073) (51.9,1.06) (55.4,1.106) (59.5,1.084) (65.3,1.069) (67.7,1.099) (69.4,1.129)
(71.8,1.047) (74.3,0.942) (75.9,0.98) (78.8,0.994) (82.1,1.039) (84.1,1.159) (86.2,1.382) (88.2,1.725)
(90.3,1.875) (92.3,1.949) (96.4,2.084) (98.4,2.367) (100.5,2.42) (102.8,2.387) (104.4,2.3) (107,2.239)
(109.2,2.196) (111.4,2.065) (113.3,1.996) (114.9,1.996) (117,2.048) (118.8,1.978) (121,1.935) (122.9,1.952)
(126.1,1.978) (130,2.009) (132.2,2.061) (136.3,2.065) (141.1,2.078) (145.9,2.087) (148.2,2.052)
(149.8,1.943) (153.3,1.908) (156.5,1.891) (159.7,1.882) (162.9,1.869) (168.6,1.864) (170.9,1.794)
(174,1.725) (177.2,1.611) (178.8,1.559) (182,1.50) (184,1.424) (187.2,1.338) (192,1.216) (195.2,1.164)
(198.4,1.112) (202.5,1.09) (203.8,1.142) (206.4,1.155) (209.6,1.14) (212.8,1.153) (216,1.171) (220,1.181)};
% Fibonacci lines and labels
\addplot[lA, line width=0.5pt] coordinates {(48.9,3.1085) (92.7,3.1085)};
\addplot[lB, line width=0.5pt] coordinates {(48.9,2.6177) (92.7,2.6177)};
\addplot[lC, line width=0.5pt] coordinates {(48.9,2.3140) (92.7,2.3140)};
\addplot[lD, line width=0.5pt] coordinates {(48.9,2.0686) (92.7,2.0686)};
\addplot[lE, line width=0.5pt] coordinates {(48.9,1.8232) (92.7,1.8232)};
\addplot[lF, line width=0.5pt] coordinates {(48.9,1.4738) (92.7,1.4738)};
\addplot[lA, line width=0.5pt] coordinates {(48.9,1.0287) (92.7,1.0287)};
\addplot[black!45, dashed, line width=0.5pt] coordinates {(48.9,1.0287) (92.7,3.1085)};
\node[anchor=east, text=lA, font=\ns, inner sep=1.5pt] at (axis cs:48.9,3.1085) {0(3.1085)};
\node[anchor=east, text=lB, font=\ns, inner sep=1.5pt] at (axis cs:48.9,2.6177) {0.236(2.6177)};
\node[anchor=east, text=lC, font=\ns, inner sep=1.5pt] at (axis cs:48.9,2.3140) {0.382(2.3140)};
\node[anchor=east, text=lD, font=\ns, inner sep=1.5pt] at (axis cs:48.9,2.0686) {0.5(2.0686)};
\node[anchor=east, text=lE, font=\ns, inner sep=1.5pt] at (axis cs:48.9,1.8232) {0.618(1.8232)};
\node[anchor=east, text=lF, font=\ns, inner sep=1.5pt] at (axis cs:48.9,1.4738) {0.786(1.4738)};
\node[anchor=east, text=lA, font=\ns, inner sep=1.5pt] at (axis cs:48.9,1.0287) {1(1.0287)};
% Moving averages
\addplot[maC, line width=2.2pt, opacity=0.9, smooth] coordinates {
(60,1.196) (72,1.293) (84,1.412) (92.7,1.48) (103,1.569) (119.4,1.657) (131.5,1.717) (144,1.773) (149.7,1.80)
(160,1.829) (168.6,1.873) (176,1.877) (184,1.866) (194,1.851) (203,1.836) (220,1.825)};
\addplot[maB, line width=2.2pt, opacity=0.9, smooth] coordinates {
(-0.45,1.37) (0,1.372) (19,1.431) (39,1.465) (52,1.457) (59.5,1.45) (67.7,1.472) (76,1.502) (84,1.546)
(92,1.658) (99.6,1.726) (103,1.755) (112.4,1.813) (125,1.926) (138,2.039) (144,2.082) (149.7,2.143)
(153.5,2.165) (160,2.213) (169.6,2.27) (176,2.27) (182,2.222) (184,2.178) (188.4,2.126) (193.6,2.04)
(203,1.918) (212.8,1.832) (220,1.767)};
\addplot[maA, line width=2.2pt, opacity=0.9, smooth] coordinates {
(-0.45,1.525) (0,1.526) (9,1.573) (14,1.616) (19,1.631) (23,1.621) (29,1.577) (34,1.53) (39,1.478) (44,1.43)
(49,1.37) (52,1.345) (55,1.315) (62,1.30) (68,1.305) (72,1.35) (78,1.465) (84,1.606) (90,1.77) (96,1.994)
(100,2.06) (104,2.18) (108,2.26) (112,2.34) (116,2.41) (122,2.466) (128,2.478) (132,2.456) (138,2.352)
(144,2.28) (150,2.21) (155,2.17) (160,2.139) (170,2.082) (179,2.021) (185,1.94) (190,1.87) (194,1.79)
(197,1.74) (203,1.645) (209,1.589) (213,1.524) (220,1.434)};
\addplot[basis, line width=0.5pt] coordinates {
(0,1.728) (5,1.685) (10,1.62) (15,1.608) (19,1.576) (24,1.451) (29,1.385) (34,1.356) (39,1.338) (44,1.349)
(49,1.302) (54,1.251) (59,1.228) (64,1.239) (69,1.310) (74,1.491) (79,1.705) (84,2.035) (89,2.374) (94,2.607)
(99,2.749) (104,2.713) (109,2.619) (114,2.452) (119,2.322) (124,2.244) (129,2.199) (134,2.199) (139,2.194)
(144,2.184) (149,2.142) (154,2.087) (159,2.047) (164,2.040) (169,2.018) (174,1.984) (179,1.890) (184,1.759)
(189,1.624) (194,1.495) (199,1.401) (204,1.317) (209,1.323) (214,1.332) (219,1.345) (220,1.3449)};
\addplot[maTen, line width=0.6pt] coordinates {
(0,1.63) (4,1.70) (9,1.670) (14,1.560) (19,1.482) (24,1.342) (29,1.288) (34,1.370) (39,1.388) (44,1.329)
(49,1.216) (54,1.172) (59,1.241) (64,1.305) (69,1.378) (72,1.516) (74,1.676) (77,1.867) (79,2.032) (82,2.262)
(84,2.393) (87,2.600) (89,2.715) (94,2.821) (99,2.783) (102,2.679) (104,2.606) (109,2.455) (112,2.338)
(114,2.298) (119,2.189) (124,2.189) (129,2.209) (134,2.208) (139,2.178) (144,2.160) (149,2.106) (154,2.015)
(159,1.988) (164,2.066) (169,2.047) (174,1.902) (177,1.801) (179,1.732) (184,1.615) (187,1.543) (189,1.516)
(194,1.375) (199,1.285) (204,1.259) (207,1.310) (209,1.360) (212,1.397) (214,1.406) (219,1.329) (220,1.3126)};
\addplot[maFive, line width=0.6pt] coordinates {
(0,1.64) (2,1.72) (4,1.741) (7,1.641) (9,1.599) (12,1.527) (14,1.522) (17,1.505) (19,1.442) (22,1.282)
(24,1.242) (27,1.307) (29,1.335) (32,1.382) (34,1.405) (37,1.406) (39,1.370) (42,1.326) (44,1.288) (47,1.206)
(49,1.143) (52,1.149) (54,1.201) (57,1.253) (59,1.281) (62,1.302) (64,1.329) (67,1.392) (69,1.427) (70,1.486)
(72,1.64) (74,1.925) (77,2.094) (79,2.139) (82,2.430) (84,2.647) (87,2.770) (89,2.783) (92,2.814) (94,2.859)
(97,2.897) (99,2.707) (102,2.501) (104,2.504) (107,2.460) (109,2.406) (112,2.216) (114,2.189) (117,2.274)
(119,2.190) (122,2.122) (124,2.189) (127,2.227) (129,2.229) (132,2.228) (134,2.187) (137,2.173) (139,2.170)
(142,2.144) (144,2.151) (147,2.145) (149,2.061) (152,1.965) (154,1.968) (157,1.988) (159,2.009) (162,2.102)
(164,2.123) (167,2.045) (169,1.970) (172,1.862) (174,1.835) (177,1.739) (179,1.630) (182,1.561) (184,1.600)
(187,1.525) (189,1.432) (192,1.338) (194,1.318) (197,1.300) (199,1.253) (202,1.236) (204,1.264) (207,1.384)
(209,1.456) (212,1.410) (214,1.355) (217,1.340) (219,1.304) (220,1.274)};
% candles
\addplot[quiver={u=0,v=\thisrow{h}-\thisrow{l}}, draw=cWick, line width=0.6pt] table[x=d,y=l]{\ohlc};
\addplot[quiver={u=0,v=\thisrow{c}-\thisrow{o}}, draw=cWick, line width=4.4pt] table[x=d,y=o]{\ohlc};
\addplot[quiver={u=0,v=\thisrow{c}-\thisrow{o}}, draw=cUp, line width=3.2pt,
  restrict expr to domain={\thisrow{c}-\thisrow{o}}{0:10}] table[x=d,y=o]{\ohlc};
\addplot[quiver={u=0,v=\thisrow{c}-\thisrow{o}}, draw=cDn, line width=3.2pt,
  restrict expr to domain={\thisrow{c}-\thisrow{o}}{-10:-0.0000001}] table[x=d,y=o]{\ohlc};
% horizontal levels and trend lines
\addplot[black, line width=1.6pt] coordinates {(82.8,2.9674) (273.7,2.9674)};
\addplot[black, line width=1.6pt] coordinates {(-0.45,2.4601) (273.7,2.4601)};
\addplot[black, line width=1.6pt] coordinates {(-0.45,1.9252) (273.7,1.9252)};
\addplot[black, line width=1.8pt] coordinates {(101.9,2.797) (225.7,1.918)};
\addplot[black, line width=1.8pt] coordinates {(116.0,2.446) (225.7,1.858)};
\addplot[black, line width=1.8pt] coordinates {(112.1,1.922) (153.8,2.165)};
\addplot[bbBlue, densely dotted, line width=0.6pt] coordinates {(-0.45,1.2316) (273.7,1.2316)};
% right-hand value labels
\node[lbl, fill=black] at (axis cs:273.7,2.9674) {2.9674};
\node[lbl, fill=black] at (axis cs:273.7,2.4601) {2.4601};
\node[lbl, fill=black] at (axis cs:273.7,1.9252) {1.9252};
\node[lbl, fill=black] at (axis cs:273.7,1.820) {1.8225};
\node[lbl, fill=bRed] at (axis cs:273.7,1.762) {1.7675};
\node[lbl, fill=bBlue] at (axis cs:273.7,1.506) {1.5099};
\node[lbl, fill=bBlue] at (axis cs:273.7,1.430) {1.4345};
\node[lbl, fill=bRed] at (axis cs:273.7,1.337) {1.3449};
\node[lbl, fill=bMag] at (axis cs:273.7,1.282) {1.3126};
\node[lbl, fill=bMag] at (axis cs:273.7,1.226) {1.2741};
\node[lbl, fill=bSlate] at (axis cs:273.7,1.170) {1.2316};
\node[lbl, fill=bBlue] at (axis cs:273.7,1.114) {1.1799};
\node[lbl, fill=bSalmon] at (axis cs:273.7,0.955) {311.092M};
\node[lbl, fill=black] at (axis cs:273.7,0.897) {210.059M};
\end{axis}

% frame, separators and texts
\draw[black!60, line width=0.7pt] (5pt,363pt) -- (1568pt,363pt);
\draw[black!60, line width=0.7pt] (5pt,214pt) -- (1568pt,214pt);
\fill[black!90] (0,866pt) rectangle (1568pt,870pt);
\draw[black!80, line width=1.2pt] (0.6pt,0) -- (0.6pt,866pt);
\draw[black!70, line width=1pt] (0,0.5pt) -- (1568pt,0.5pt);
\node[anchor=west, font=\fontsize{8.3}{9}\selectfont, inner sep=0] at (10pt,858pt) {Published on Investing.com, 7/Jan/2022 - 10:21:00 GMT, Powered by TradingView.};
\node[anchor=west, font=\fontsize{8.5}{9}\selectfont\bfseries, inner sep=0] at (10pt,844pt) {Cardano, Investing.com:ADA/USD, D};
\begin{scope}[every node/.style={anchor=west, font=\fs, inner sep=0, text=black!85}]
\node at (12pt,824pt) {MA (50, close, 0)};
\node at (12pt,814pt) {MA (100, close, 0)};
\node at (12pt,803pt) {MA (200, close, 0)};
\node at (12pt,793pt) {Volumen (20)};
\node at (12pt,783pt) {MA (5, close, 0)};
\node at (12pt,772pt) {MA (10, close, 0)};
\node at (12pt,762pt) {BB (20, 2)};
\node at (12pt,353pt) {MACD (12, 26, close, 19)};
\node at (12pt,204pt) {RSI (14)};
\end{scope}
\node[anchor=west, inner sep=0] at (12pt,376pt) {{\fontsize{12}{13}\selectfont\bfseries Investing}{\fontsize{8.5}{9}\selectfont\color{black!65}.com}};
\end{tikzpicture}
\end{document}
